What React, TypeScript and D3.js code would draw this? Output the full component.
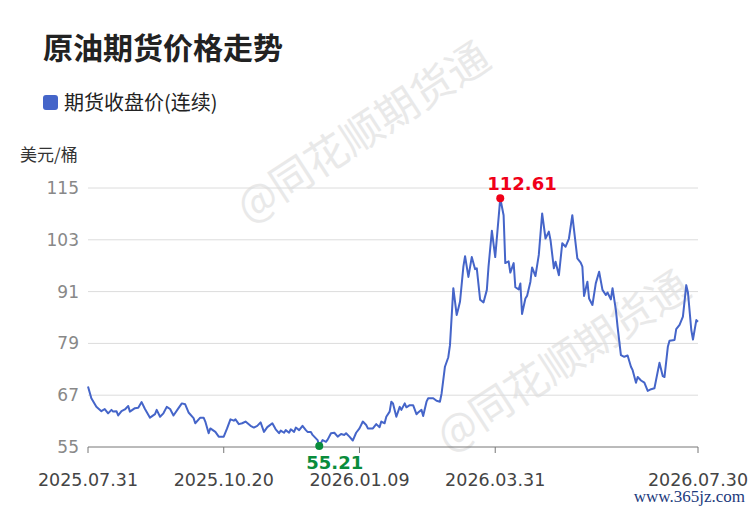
import React from 'react';
import * as d3 from 'd3';

const TITLE = '原油期货价格走势';
const SERIES_NAME = '期货收盘价(连续)';
const UNIT = '美元/桶';
const WATERMARK = '@同花顺期货通';
const SITE = 'www.365jz.com';

const yTicks = [55, 67, 79, 91, 103, 115];
const xTicks = ['2025-07-31', '2025-10-20', '2026-01-09', '2026-03-31', '2026-07-30'];

const dates = [
  '2025-07-31', '2025-08-02', '2025-08-05', '2025-08-08', '2025-08-10', '2025-08-12', '2025-08-14', '2025-08-15', '2025-08-17', '2025-08-18',
  '2025-08-20', '2025-08-22', '2025-08-24', '2025-08-25', '2025-08-28', '2025-08-30', '2025-09-01', '2025-09-03', '2025-09-06', '2025-09-09',
  '2025-09-10', '2025-09-12', '2025-09-14', '2025-09-16', '2025-09-18', '2025-09-20', '2025-09-23', '2025-09-25', '2025-09-27', '2025-09-29',
  '2025-10-02', '2025-10-03', '2025-10-06', '2025-10-08', '2025-10-09', '2025-10-11', '2025-10-12', '2025-10-15', '2025-10-17', '2025-10-20',
  '2025-10-22', '2025-10-24', '2025-10-26', '2025-10-27', '2025-10-29', '2025-10-31', '2025-11-02', '2025-11-05', '2025-11-07', '2025-11-09',
  '2025-11-11', '2025-11-13', '2025-11-15', '2025-11-16', '2025-11-18', '2025-11-20', '2025-11-22', '2025-11-23', '2025-11-25', '2025-11-26',
  '2025-11-28', '2025-11-29', '2025-12-01', '2025-12-02', '2025-12-04', '2025-12-06', '2025-12-08', '2025-12-09', '2025-12-11', '2025-12-12',
  '2025-12-15', '2025-12-16', '2025-12-18', '2025-12-20', '2025-12-21', '2025-12-23', '2025-12-25', '2025-12-27', '2025-12-29', '2025-12-31',
  '2026-01-01', '2026-01-03', '2026-01-05', '2026-01-07', '2026-01-09', '2026-01-11', '2026-01-13', '2026-01-14', '2026-01-17', '2026-01-19',
  '2026-01-21', '2026-01-22', '2026-01-24', '2026-01-25', '2026-01-27', '2026-01-28', '2026-01-29', '2026-01-31', '2026-02-02', '2026-02-03',
  '2026-02-05', '2026-02-06', '2026-02-08', '2026-02-10', '2026-02-12', '2026-02-13', '2026-02-15', '2026-02-16', '2026-02-18', '2026-02-19',
  '2026-02-22', '2026-02-24', '2026-02-26', '2026-02-27', '2026-03-01', '2026-03-03', '2026-03-04', '2026-03-06', '2026-03-08', '2026-03-09',
  '2026-03-10', '2026-03-12', '2026-03-13', '2026-03-15', '2026-03-17', '2026-03-19', '2026-03-20', '2026-03-22', '2026-03-24', '2026-03-26',
  '2026-03-27', '2026-03-29', '2026-03-31', '2026-04-03', '2026-04-05', '2026-04-06', '2026-04-08', '2026-04-09', '2026-04-11', '2026-04-12',
  '2026-04-14', '2026-04-15', '2026-04-16', '2026-04-18', '2026-04-19', '2026-04-21', '2026-04-22', '2026-04-24', '2026-04-26', '2026-04-28',
  '2026-04-30', '2026-05-02', '2026-05-03', '2026-05-05', '2026-05-06', '2026-05-08', '2026-05-10', '2026-05-12', '2026-05-14', '2026-05-16',
  '2026-05-19', '2026-05-21', '2026-05-22', '2026-05-23', '2026-05-25', '2026-05-26', '2026-05-28', '2026-05-30', '2026-06-01', '2026-06-03',
  '2026-06-05', '2026-06-06', '2026-06-08', '2026-06-09', '2026-06-11', '2026-06-12', '2026-06-14', '2026-06-16', '2026-06-18', '2026-06-20',
  '2026-06-21', '2026-06-23', '2026-06-24', '2026-06-26', '2026-06-28', '2026-06-30', '2026-07-02', '2026-07-04', '2026-07-07', '2026-07-09',
  '2026-07-10', '2026-07-12', '2026-07-13', '2026-07-16', '2026-07-17', '2026-07-19', '2026-07-21', '2026-07-23', '2026-07-24', '2026-07-26',
  '2026-07-27', '2026-07-29', '2026-07-30',
];

const prices = [
  69.0, 66.3, 64.3, 63.3, 63.8, 62.8, 63.6, 63.2, 63.3, 62.3,
  63.3, 63.7, 64.5, 63.2, 64.0, 64.1, 65.4, 63.8, 61.8, 62.6,
  63.6, 62.0, 62.8, 64.3, 63.8, 62.3, 64.0, 65.1, 64.9, 63.0,
  61.7, 60.5, 61.8, 61.8, 60.9, 58.2, 59.3, 58.5, 57.4, 57.4,
  59.3, 61.4, 61.1, 61.4, 60.3, 60.5, 60.9, 59.9, 59.5, 59.9,
  60.7, 58.5, 59.6, 59.9, 60.5, 59.1, 58.2, 58.8, 58.3, 58.9,
  58.3, 59.1, 58.5, 59.5, 58.9, 59.9, 58.9, 58.5, 58.5, 57.8,
  56.6, 55.21, 56.6, 56.2, 56.7, 58.2, 58.3, 57.4, 58.0, 57.8,
  58.2, 57.4, 56.5, 58.3, 59.3, 60.9, 60.1, 59.3, 59.3, 60.3,
  59.6, 60.9, 60.5, 62.0, 63.2, 65.5, 65.1, 62.0, 64.3, 63.6,
  65.1, 64.2, 64.7, 64.7, 62.6, 63.0, 63.6, 62.2, 65.5, 66.3,
  66.3, 65.7, 65.5, 67.4, 73.6, 75.8, 78.6, 91.8, 85.6, 87.1,
  88.7, 96.8, 99.2, 94.4, 99.0, 96.2, 96.4, 89.1, 88.5, 91.4,
  96.8, 105.1, 99.0, 112.61, 108.7, 97.6, 98.0, 95.4, 97.6, 92.0,
  91.5, 92.9, 85.8, 89.4, 90.0, 93.3, 96.6, 94.6, 99.5, 109.1,
  103.3, 104.9, 102.9, 96.4, 97.9, 94.8, 102.2, 101.4, 103.3, 108.7,
  98.7, 97.7, 96.8, 90.0, 93.3, 89.4, 87.9, 92.9, 95.6, 91.4,
  90.2, 90.8, 89.2, 91.8, 86.7, 82.9, 76.3, 75.9, 76.2, 73.6,
  72.8, 69.9, 71.2, 70.4, 69.9, 68.0, 68.4, 68.6, 74.5, 71.4,
  71.2, 78.2, 79.6, 79.8, 82.3, 83.3, 85.2, 92.5, 90.8, 82.1,
  79.9, 84.4, 84.0,
];

const W = 750;
const H = 510;
const CJK = '"Noto Sans CJK SC", "Noto Sans", sans-serif';
const NUM = '"DejaVu Sans", sans-serif';
const LINE_COLOR = '#4565c9';

export default function App() {
  const parse = d3.utcParse('%Y-%m-%d');
  const fmt = d3.utcFormat('%Y.%m.%d');
  const data = dates.map((d, i) => ({ date: parse(d) as Date, value: prices[i] }));

  const x = d3.scaleUtc()
    .domain([parse(xTicks[0]) as Date, parse(xTicks[xTicks.length - 1]) as Date])
    .range([88, 698]);
  const y = d3.scaleLinear().domain([55, 115]).range([447, 188]);

  const line = d3.line<{ date: Date; value: number }>()
    .x(d => x(d.date))
    .y(d => y(d.value));

  const maxPt = data[d3.maxIndex(data, d => d.value)];
  const minPt = data[d3.minIndex(data, d => d.value)];

  return (
    <svg width={W} height={H} style={{ position: 'absolute', left: 0, top: 0, background: '#fff' }}>
      {/* watermarks */}
      {[[361, 129], [561, 358]].map(([cx, cy], i) => (
        <text key={i} transform={`translate(${cx},${cy}) rotate(-33)`} textAnchor="middle"
          dominantBaseline="central" fontFamily={CJK} fontSize={42} fill="#e9e9e9">{WATERMARK}</text>
      ))}

      <text x={43} y={59} fontFamily={CJK} fontSize={30} fontWeight="bold" fill="#222">{TITLE}</text>

      <rect x={43} y={95} width={15} height={15} rx={3} fill={LINE_COLOR} />
      <text x={64} y={110} fontFamily={CJK} fontSize={20} fill="#222">{SERIES_NAME}</text>

      <text x={20} y={161} fontFamily={CJK} fontSize={17} fill="#333">{UNIT}</text>

      {yTicks.map(t => (
        <g key={t}>
          {t !== 55 && <line x1={88} x2={698} y1={y(t)} y2={y(t)} stroke="#dcdcdc" strokeWidth={1} />}
          <text x={79} y={y(t)} textAnchor="end" dominantBaseline="central"
            fontFamily={NUM} fontSize={17} fill="#888">{t}</text>
        </g>
      ))}

      <line x1={88} x2={698} y1={y(55)} y2={y(55)} stroke="#777" strokeWidth={1} />
      {xTicks.map(t => {
        const d = parse(t) as Date;
        return (
          <g key={t}>
            <line x1={x(d)} x2={x(d)} y1={y(55)} y2={y(55) + 6} stroke="#777" strokeWidth={1} />
            <text x={x(d)} y={486} textAnchor="middle" fontFamily={NUM} fontSize={17.5} fill="#444">{fmt(d)}</text>
          </g>
        );
      })}

      <path d={line(data) || ''} fill="none" stroke={LINE_COLOR} strokeWidth={2} strokeLinejoin="round" />

      <circle cx={x(maxPt.date)} cy={y(maxPt.value)} r={4} fill="#f00018" />
      <text x={x(maxPt.date) - 13} y={y(maxPt.value) - 8} fontFamily={NUM} fontSize={18} fontWeight="bold"
        fill="#f00018">{maxPt.value.toFixed(2)}</text>

      <circle cx={x(minPt.date)} cy={y(minPt.value)} r={4} fill="#0a8c3c" />
      <text x={x(minPt.date) - 13} y={y(minPt.value) + 23} fontFamily={NUM} fontSize={18} fontWeight="bold"
        fill="#0a8c3c">{minPt.value.toFixed(2)}</text>

      <text x={745} y={502} textAnchor="end" fontFamily='"Liberation Serif", serif' fontSize={17}
        fill="#1c3a7c">{SITE}</text>
    </svg>
  );
}
